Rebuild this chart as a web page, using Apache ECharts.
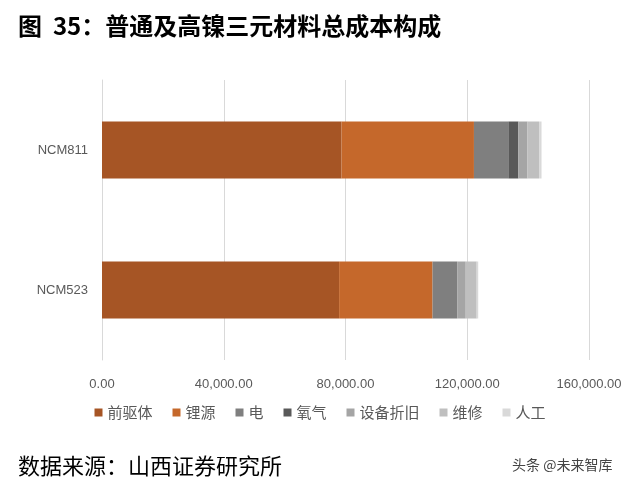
<!DOCTYPE html><html><head><meta charset="utf-8"><script src="https://cdn.jsdelivr.net/npm/echarts@6/dist/echarts.min.js"></script></head><body style="margin:0"><div id="c" style="width:640px;height:487px"></div><script>
var categories=['NCM523','NCM811'];
var seriesNames=['前驱体','锂源','电','氧气','设备折旧','维修','人工'];
var precursor=[77900,78700];
var lithium=[30700,43500];
var power=[8100,11300];
var oxygen=[0,3300];
var depreciation=[2800,3000];
var maintenance=[3600,3800];
var labor=[500,800];
var colors=['#A65525','#C5682B','#7F7F7F','#595959','#A5A5A5','#BFBFBF','#D9D9D9'];
var vals=[precursor,lithium,power,oxygen,depreciation,maintenance,labor];
var ch=echarts.init(document.getElementById('c'));
ch.setOption({animation:false,
graphic:[{type:'text',left:18,top:14,style:{text:'图  35：普通及高镍三元材料总成本构成',font:'bold 24px "Noto Sans CJK SC"',fill:'#000'}},
{type:'text',left:18,top:455,style:{text:'数据来源：山西证券研究所',font:'22px "Noto Sans CJK SC"',fill:'#000'}},
{type:'text',left:512,top:458,style:{text:'头条 @未来智库',font:'14px "Noto Sans CJK SC"',fill:'#444'}}],
legend:{bottom:62,itemWidth:8,itemHeight:8,itemGap:20,icon:'rect',textStyle:{color:'#595959',fontSize:15,fontFamily:'Noto Sans CJK SC'},data:seriesNames},
grid:{left:102,right:51,top:80,bottom:127},
xAxis:{type:'value',min:0,max:160000,interval:40000,axisLine:{show:false},axisTick:{show:false},splitLine:{lineStyle:{color:'#D9D9D9'}},axisLabel:{color:'#595959',fontSize:13,margin:18,formatter:function(v){return v.toLocaleString('en-US',{minimumFractionDigits:2})}}},
yAxis:{type:'category',data:categories,axisLine:{lineStyle:{color:'#D9D9D9'}},axisTick:{show:false},axisLabel:{color:'#595959',fontSize:13,margin:14}},
series:seriesNames.map(function(n,i){return{name:n,type:'bar',stack:'a',barWidth:57,data:vals[i],itemStyle:{color:colors[i]}}})});
</script></body></html>
